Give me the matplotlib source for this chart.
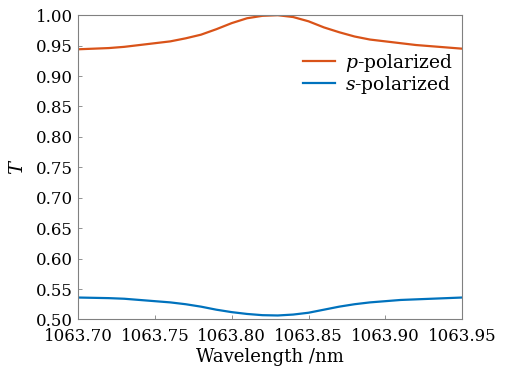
import matplotlib
matplotlib.use("Agg")
import matplotlib.pyplot as plt

wavelength = [1063.70, 1063.71, 1063.72, 1063.73, 1063.74, 1063.75, 1063.76,
              1063.77, 1063.78, 1063.79, 1063.80, 1063.81, 1063.82, 1063.83,
              1063.84, 1063.85, 1063.86, 1063.87, 1063.88, 1063.89, 1063.90,
              1063.91, 1063.92, 1063.93, 1063.94, 1063.95]
p_pol = [0.944, 0.945, 0.946, 0.948, 0.951, 0.954, 0.957, 0.962, 0.968, 0.977,
         0.987, 0.995, 0.999, 1.000, 0.997, 0.990, 0.980, 0.972, 0.965, 0.960,
         0.957, 0.954, 0.951, 0.949, 0.947, 0.945]
s_pol = [0.536, 0.5355, 0.535, 0.534, 0.532, 0.530, 0.528, 0.525, 0.521, 0.516,
         0.512, 0.509, 0.507, 0.5065, 0.508, 0.511, 0.516, 0.521, 0.525, 0.528,
         0.530, 0.532, 0.533, 0.534, 0.535, 0.536]
xticks = [1063.70, 1063.75, 1063.80, 1063.85, 1063.90, 1063.95]
yticks = [0.50, 0.55, 0.60, 0.65, 0.70, 0.75, 0.80, 0.85, 0.90, 0.95, 1.00]

plt.rcParams['font.family'] = 'DejaVu Serif'
plt.rcParams['mathtext.fontset'] = 'dejavuserif'

fig = plt.figure(figsize=(5.14, 3.71), dpi=100)
ax = fig.add_axes([0.152, 0.139, 0.747, 0.82])
ax.plot(wavelength, p_pol, color='#D95319', lw=1.6, label='$p$-polarized')
ax.plot(wavelength, s_pol, color='#0072BD', lw=1.6, label='$s$-polarized')
ax.set_xlim(1063.70, 1063.95)
ax.set_ylim(0.50, 1.00)
ax.set_xticks(xticks)
ax.set_xticklabels([f"{v:.2f}" for v in xticks])
ax.set_yticks(yticks)
ax.set_yticklabels([f"{v:.2f}" for v in yticks])
ax.tick_params(direction='in', length=3, width=0.6, color='#808080',
               labelsize=12, labelcolor='black')
ax.tick_params(axis='x', pad=6)
ax.tick_params(axis='y', pad=4)
for s in ax.spines.values():
    s.set_color('#808080')
    s.set_linewidth(0.8)
ax.set_xlabel('Wavelength /nm', fontsize=13, labelpad=2.5)
ax.set_ylabel('$T$', fontsize=14, labelpad=6)
leg = ax.legend(loc='upper right', bbox_to_anchor=(1.0, 0.91), frameon=False,
                fontsize=13.5, handlelength=1.7, handletextpad=0.5,
                labelspacing=0.0, borderaxespad=0.1)
fig.savefig('out.png', dpi=100)
